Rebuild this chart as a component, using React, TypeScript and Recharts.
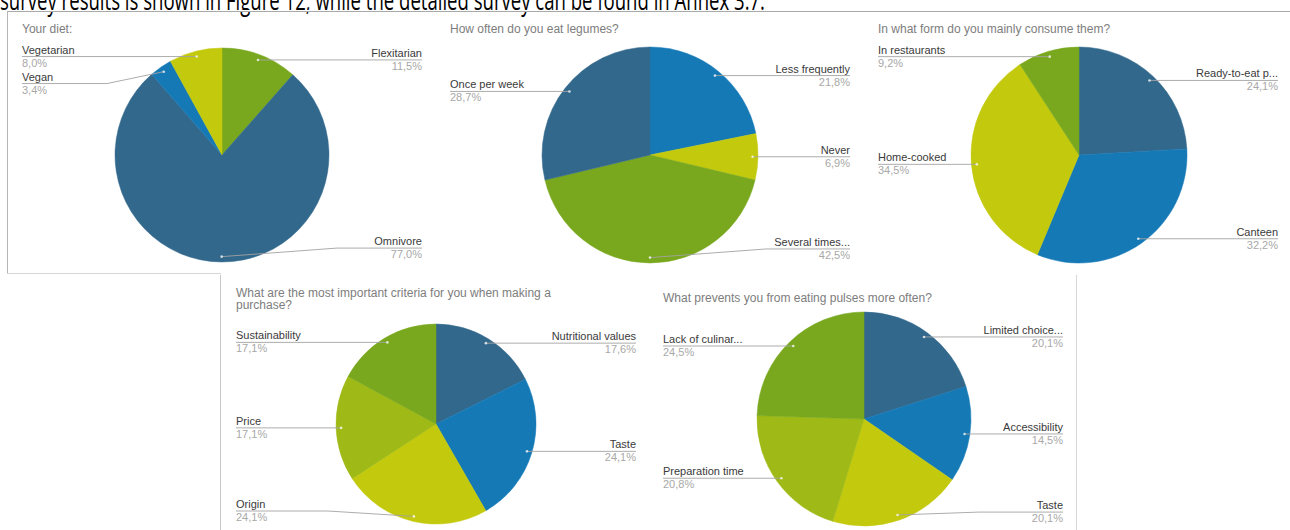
import React from 'react';
import { PieChart, Pie, Cell } from 'recharts';

const C_DARK = '#32688c';
const C_BLUE = '#1579b6';
const C_YELLOW = '#c3c90c';
const C_GREEN = '#79a81e';
const C_YG = '#9fba16';

const dietTitle = ['Your diet:'];
const dietNames = ['Flexitarian', 'Omnivore', 'Vegan', 'Vegetarian'];
const dietValues = [11.5, 77.0, 3.4, 8.0];
const dietColors = [C_GREEN, C_DARK, C_BLUE, C_YELLOW];

const freqTitle = ['How often do you eat legumes?'];
const freqNames = ['Less frequently', 'Never', 'Several times...', 'Once per week'];
const freqValues = [21.8, 6.9, 42.5, 28.7];
const freqColors = [C_BLUE, C_YELLOW, C_GREEN, C_DARK];

const formTitle = ['In what form do you mainly consume them?'];
const formNames = ['Ready-to-eat p...', 'Canteen', 'Home-cooked', 'In restaurants'];
const formValues = [24.1, 32.2, 34.5, 9.2];
const formColors = [C_DARK, C_BLUE, C_YELLOW, C_GREEN];

const critTitle = ['What are the most important criteria for you when making a', 'purchase?'];
const critNames = ['Nutritional values', 'Taste', 'Origin', 'Price', 'Sustainability'];
const critValues = [17.6, 24.1, 24.1, 17.1, 17.1];
const critColors = [C_DARK, C_BLUE, C_YELLOW, C_YG, C_GREEN];

const barrTitle = ['What prevents you from eating pulses more often?'];
const barrNames = ['Limited choice...', 'Accessibility', 'Taste', 'Preparation time', 'Lack of culinar...'];
const barrValues = [20.1, 14.5, 20.1, 20.8, 24.5];
const barrColors = [C_DARK, C_BLUE, C_YELLOW, C_YG, C_GREEN];

const headerText = 'survey results is shown in Figure 12, while the detailed survey can be found in Annex 3.7.';

const FONT = 'Arial, "Liberation Sans", Helvetica, sans-serif';
const GAP = 27;
const K = 0.95;

type LabelPos = { dx: number; dy: number; y: number; right: boolean };

function layoutLabels(values: number[], cx: number, cy: number, r: number): LabelPos[] {
  const total = values.reduce((a, b) => a + b, 0);
  let acc = 0;
  const items: (LabelPos & { i: number })[] = values.map((v, i) => {
    const midCw = ((acc + v / 2) / total) * 360;
    acc += v;
    const a = ((90 - midCw) * Math.PI) / 180;
    const dx = cx + K * r * Math.cos(a);
    const dy = cy - K * r * Math.sin(a);
    return { i, dx, dy, y: dy, right: Math.cos(a) > -0.02 };
  });
  const minY = cy - r;
  const maxY = cy + 0.87 * r;
  [true, false].forEach((side) => {
    const s = items.filter((it) => it.right === side).sort((a, b) => a.dy - b.dy);
    s.forEach((it, k) => {
      it.y = Math.max(it.dy, minY);
      if (k > 0) it.y = Math.max(it.y, s[k - 1].y + GAP);
    });
    for (let k = s.length - 1; k >= 0; k--) {
      const lim = k === s.length - 1 ? maxY : s[k + 1].y - GAP;
      if (s[k].y > lim) s[k].y = lim;
    }
  });
  return items.map(({ dx, dy, y, right }) => ({ dx, dy, y, right }));
}

const fmt = (v: number) => v.toFixed(1).replace('.', ',') + '%';

type PanelProps = {
  left: number;
  top: number;
  width: number;
  height: number;
  cx: number;
  cy: number;
  r: number;
  title: string[];
  titleY: number;
  titleStep: number;
  names: string[];
  values: number[];
  colors: string[];
};

function PiePanel(p: PanelProps) {
  const data = p.names.map((n, i) => ({ name: n, value: p.values[i] }));
  const layout = layoutLabels(p.values, p.cx, p.cy, p.r);
  const renderLabel = (props: any) => {
    let i = typeof props.index === 'number' ? props.index : p.names.indexOf(props.name);
    const L = layout[i];
    if (!L) return null;
    const endX = L.right ? p.width - 13 : 15;
    const elbowX = L.right ? p.cx + p.r + 8 : p.cx - p.r - 8;
    const straight = Math.abs(L.y - L.dy) < 0.5;
    const d = straight
      ? `M${L.dx},${L.dy}L${endX},${L.y}`
      : `M${L.dx},${L.dy}L${elbowX},${L.y}L${endX},${L.y}`;
    const anchor = L.right ? 'end' : 'start';
    return (
      <g key={`lbl-${i}`}>
        <path d={d} stroke="#a3a3a3" strokeWidth={0.9} fill="none" />
        <circle cx={L.dx} cy={L.dy} r={1.3} fill="#ffffff" fillOpacity={0.75} />
        <text x={endX} y={L.y - 3} textAnchor={anchor} fontSize={11} fill="#3a3a3a" fontFamily={FONT}>
          {p.names[i]}
        </text>
        <text x={endX} y={L.y + 10} textAnchor={anchor} fontSize={11} fill="#a8a8a8" fontFamily={FONT}>
          {fmt(p.values[i])}
        </text>
      </g>
    );
  };
  return (
    <div style={{ position: 'absolute', left: p.left, top: p.top, width: p.width, height: p.height }}>
      <PieChart width={p.width} height={p.height} margin={{ top: 0, right: 0, bottom: 0, left: 0 }}>
        <Pie
          data={data}
          dataKey="value"
          nameKey="name"
          cx={p.cx}
          cy={p.cy}
          outerRadius={p.r}
          innerRadius={0}
          startAngle={90}
          endAngle={-270}
          stroke="none"
          isAnimationActive={false}
          labelLine={false}
          label={renderLabel}
        >
          {data.map((d, i) => (
            <Cell key={d.name} fill={p.colors[i]} stroke={p.colors[i]} strokeWidth={0.5} />
          ))}
        </Pie>
      </PieChart>
      <svg
        width={p.width}
        height={p.height}
        style={{ position: 'absolute', left: 0, top: 0, pointerEvents: 'none' }}
      >
        {p.title.map((t, k) => (
          <text key={k} x={15} y={p.titleY + k * p.titleStep} fontSize={12} fill="#7d7d7d" fontFamily={FONT}>
            {t}
          </text>
        ))}
      </svg>
    </div>
  );
}

export default function App() {
  return (
    <div
      style={{
        position: 'absolute',
        left: 0,
        top: 0,
        width: 1290,
        height: 530,
        background: '#ffffff',
        overflow: 'hidden',
      }}
    >
      <svg width={1290} height={530} style={{ position: 'absolute', left: 0, top: 0 }}>
        <text
          x={0}
          y={10}
          fontSize={28}
          fill="#000000"
          fontFamily='"Open Sans", "Noto Sans", sans-serif'
          textLength={765}
          lengthAdjust="spacingAndGlyphs"
        >
          {headerText}
        </text>
        <rect x={0} y={10} width={1290} height={2} fill="#ffffff" />
        <line x1={7} y1={11.5} x2={1290} y2={11.5} stroke="#a9a9a9" strokeWidth={1.2} />
        <line x1={7.5} y1={11} x2={7.5} y2={273} stroke="#b5b5b5" strokeWidth={1} />
        <line x1={7} y1={273.5} x2={221} y2={273.5} stroke="#d5d5d5" strokeWidth={1} />
        <line x1={220.5} y1={275} x2={220.5} y2={530} stroke="#c8c8c8" strokeWidth={1} />
        <line x1={1076.5} y1={275} x2={1076.5} y2={530} stroke="#d8d8d8" strokeWidth={1} />
      </svg>
      <PiePanel left={7} top={11} width={428} height={262} cx={215} cy={144} r={107}
        title={dietTitle} titleY={22} titleStep={12}
        names={dietNames} values={dietValues} colors={dietColors} />
      <PiePanel left={435} top={11} width={428} height={262} cx={215} cy={144} r={108}
        title={freqTitle} titleY={22} titleStep={12}
        names={freqNames} values={freqValues} colors={freqColors} />
      <PiePanel left={863} top={11} width={428} height={262} cx={216} cy={144} r={108}
        title={formTitle} titleY={22} titleStep={12}
        names={formNames} values={formValues} colors={formColors} />
      <PiePanel left={221} top={276} width={428} height={254} cx={215} cy={148} r={100}
        title={critTitle} titleY={21} titleStep={12}
        names={critNames} values={critValues} colors={critColors} />
      <PiePanel left={648} top={276} width={428} height={254} cx={216} cy={143} r={107}
        title={barrTitle} titleY={26} titleStep={12}
        names={barrNames} values={barrValues} colors={barrColors} />
    </div>
  );
}
